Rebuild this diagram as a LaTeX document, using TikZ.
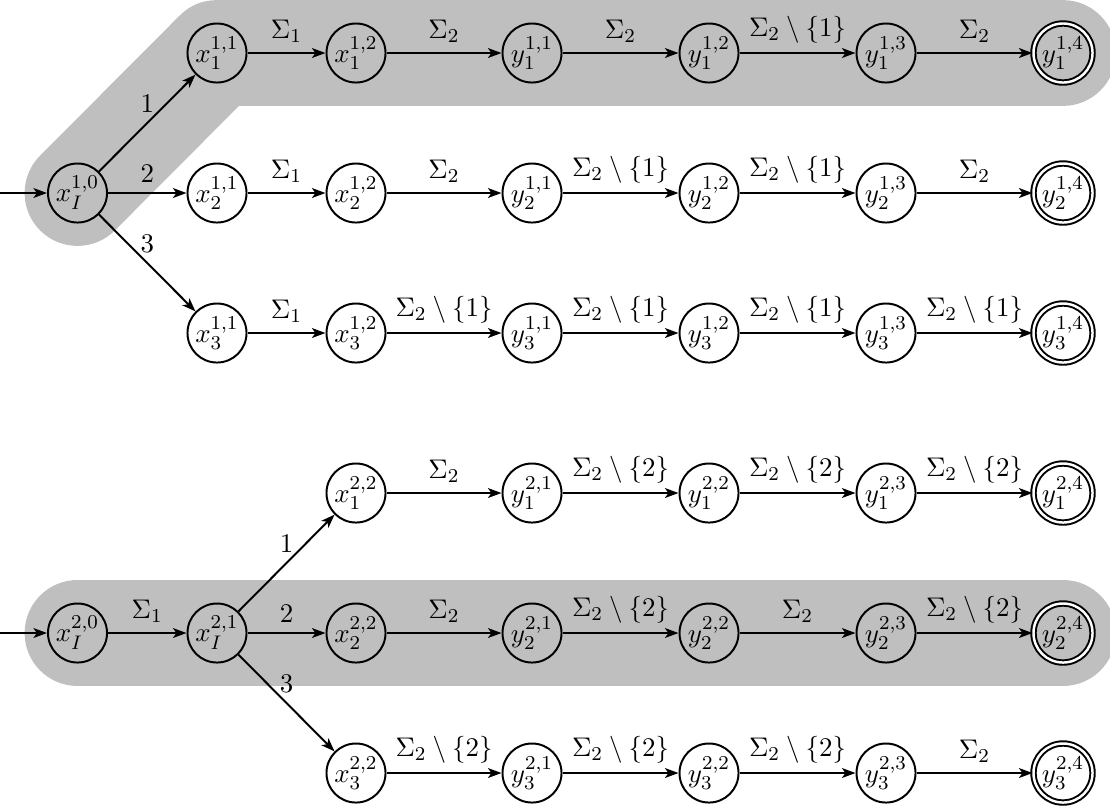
\documentclass[tikz,border=0pt]{standalone}
\usetikzlibrary{arrows.meta,backgrounds}
\begin{document}
\fontsize{11.3}{13.6}\selectfont
\begin{tikzpicture}[x=0.4065pt,y=-0.4065pt,
  state/.style={circle,draw,line width=0.8pt,minimum size=24pt,inner sep=0pt},
  accept/.style={state,double,double distance=1pt},
  edge/.style={-{Stealth[length=5.5pt,width=4pt,inset=1.4pt]},line width=0.8pt},
  lab/.style={above,midway},
  band/.style={draw=black!25,line width=43pt,line cap=round,line join=round}]
\useasboundingbox (0,0) rectangle (1110,807);
% ---------- group 1 ----------
\node[state] (xI10) at (77.5,193) {$x_I^{1,0}$};
\coordinate (i1) at (0,193);
\foreach \i/\yy in {1/53,2/193,3/333}{
  \node[state] (a\i1) at (217,\yy) {$x_{\i}^{1,1}$};
  \node[state] (a\i2) at (356,\yy) {$x_{\i}^{1,2}$};
  \node[state] (b\i1) at (532,\yy) {$y_{\i}^{1,1}$};
  \node[state] (b\i2) at (709,\yy) {$y_{\i}^{1,2}$};
  \node[state] (b\i3) at (886,\yy) {$y_{\i}^{1,3}$};
  \node[accept] (b\i4) at (1063,\yy) {$y_{\i}^{1,4}$};
  \draw[edge] (xI10) -- node[lab]{$\i$} (a\i1);
  \draw[edge] (a\i1) -- node[lab]{$\Sigma_1$} (a\i2);
}
\draw[edge] (i1) -- (xI10);
% row 1
\draw[edge] (a12) -- node[lab]{$\Sigma_2$} (b11);
\draw[edge] (b11) -- node[lab]{$\Sigma_2$} (b12);
\draw[edge] (b12) -- node[lab]{$\Sigma_2\setminus\{1\}$} (b13);
\draw[edge] (b13) -- node[lab]{$\Sigma_2$} (b14);
% row 2
\draw[edge] (a22) -- node[lab]{$\Sigma_2$} (b21);
\draw[edge] (b21) -- node[lab]{$\Sigma_2\setminus\{1\}$} (b22);
\draw[edge] (b22) -- node[lab]{$\Sigma_2\setminus\{1\}$} (b23);
\draw[edge] (b23) -- node[lab]{$\Sigma_2$} (b24);
% row 3
\draw[edge] (a32) -- node[lab]{$\Sigma_2\setminus\{1\}$} (b31);
\draw[edge] (b31) -- node[lab]{$\Sigma_2\setminus\{1\}$} (b32);
\draw[edge] (b32) -- node[lab]{$\Sigma_2\setminus\{1\}$} (b33);
\draw[edge] (b33) -- node[lab]{$\Sigma_2\setminus\{1\}$} (b34);
% ---------- group 2 ----------
\node[state] (xI20) at (77.5,633) {$x_I^{2,0}$};
\node[state] (xI21) at (217,633) {$x_I^{2,1}$};
\coordinate (i2) at (0,633);
\draw[edge] (i2) -- (xI20);
\draw[edge] (xI20) -- node[lab]{$\Sigma_1$} (xI21);
\foreach \i/\yy in {1/493,2/633,3/773}{
  \node[state] (c\i2) at (356,\yy) {$x_{\i}^{2,2}$};
  \node[state] (d\i1) at (532,\yy) {$y_{\i}^{2,1}$};
  \node[state] (d\i2) at (709,\yy) {$y_{\i}^{2,2}$};
  \node[state] (d\i3) at (886,\yy) {$y_{\i}^{2,3}$};
  \node[accept] (d\i4) at (1063,\yy) {$y_{\i}^{2,4}$};
  \draw[edge] (xI21) -- node[lab]{$\i$} (c\i2);
}
% row 1
\draw[edge] (c12) -- node[lab]{$\Sigma_2$} (d11);
\draw[edge] (d11) -- node[lab]{$\Sigma_2\setminus\{2\}$} (d12);
\draw[edge] (d12) -- node[lab]{$\Sigma_2\setminus\{2\}$} (d13);
\draw[edge] (d13) -- node[lab]{$\Sigma_2\setminus\{2\}$} (d14);
% row 2
\draw[edge] (c22) -- node[lab]{$\Sigma_2$} (d21);
\draw[edge] (d21) -- node[lab]{$\Sigma_2\setminus\{2\}$} (d22);
\draw[edge] (d22) -- node[lab]{$\Sigma_2$} (d23);
\draw[edge] (d23) -- node[lab]{$\Sigma_2\setminus\{2\}$} (d24);
% row 3
\draw[edge] (c32) -- node[lab]{$\Sigma_2\setminus\{2\}$} (d31);
\draw[edge] (d31) -- node[lab]{$\Sigma_2\setminus\{2\}$} (d32);
\draw[edge] (d32) -- node[lab]{$\Sigma_2\setminus\{2\}$} (d33);
\draw[edge] (d33) -- node[lab]{$\Sigma_2$} (d34);
% ---------- highlighted runs ----------
\begin{scope}[on background layer]
  \draw[band] (xI10.center) -- (a11.center) -- (b14.center);
  \draw[band] (xI20.center) -- (d24.center);
\end{scope}
\end{tikzpicture}
\end{document}
